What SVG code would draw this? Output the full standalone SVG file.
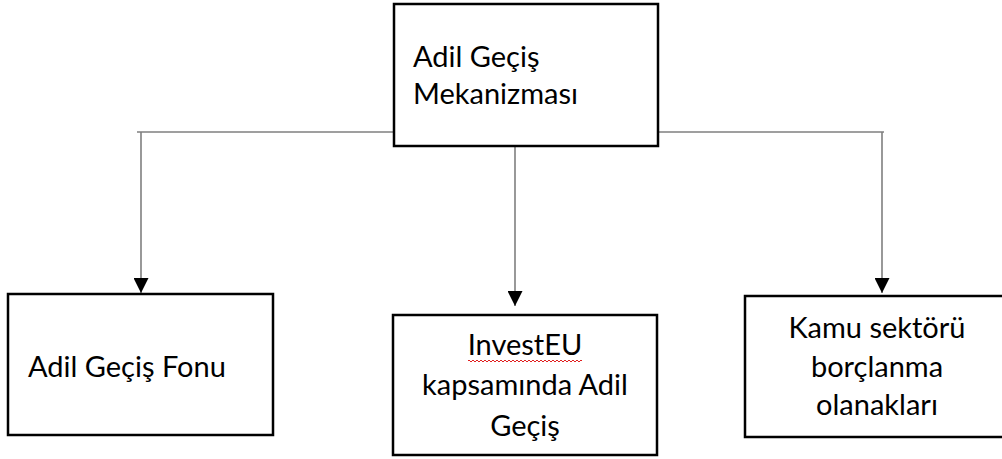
<svg xmlns="http://www.w3.org/2000/svg" width="1002" height="459" viewBox="0 0 1002 459">
<style>
.box{fill:#fff;stroke:#000;stroke-width:2.5}
.lbl{font-family:Lato,"Liberation Sans",sans-serif;font-size:29px;fill:#000}
.mid{text-anchor:middle}
.conn{stroke:#7f7f7f;stroke-width:1.6;fill:none}
</style>
<defs>
<marker id="arr" markerUnits="userSpaceOnUse" markerWidth="15" markerHeight="15" refX="15" refY="7.5" orient="auto">
<path d="M0,0 L15,7.5 L0,15 z" fill="#000"/>
</marker>
</defs>
<rect width="1002" height="459" fill="#fff"/>
<g id="connectors">
<line class="conn" x1="137" y1="132" x2="884" y2="132"/>
<line class="conn" x1="141" y1="132" x2="141" y2="293" marker-end="url(#arr)"/>
<line class="conn" x1="515" y1="146" x2="515" y2="306" marker-end="url(#arr)"/>
<line class="conn" x1="882" y1="132" x2="882" y2="293" marker-end="url(#arr)"/>
</g>
<g id="node-top">
<rect class="box" x="394" y="4" width="264" height="142"/>
<text class="lbl" x="413" y="67">Adil Geçiş</text>
<text class="lbl" x="413" y="104">Mekanizması</text>
</g>
<g id="node-left">
<rect class="box" x="8" y="294" width="265" height="141"/>
<text class="lbl" x="28" y="377">Adil Geçiş Fonu</text>
</g>
<g id="node-middle">
<rect class="box" x="393" y="315" width="264" height="140"/>
<text class="lbl mid" x="525" y="355">InvestEU</text>
<path d="M468,361 q1,-2 2,0 t2,0 t2,0 t2,0 t2,0 t2,0 t2,0 t2,0 t2,0 t2,0 t2,0 t2,0 t2,0 t2,0 t2,0 t2,0 t2,0 t2,0 t2,0 t2,0 t2,0 t2,0 t2,0 t2,0 t2,0 t2,0 t2,0 t2,0 t2,0 t2,0 t2,0 t2,0 t2,0 t2,0 t2,0 t2,0 t2,0 t2,0 t2,0 t2,0 t2,0 t2,0 t2,0 t2,0 t2,0 t2,0 t2,0 t2,0 t2,0 t2,0 t2,0 t2,0 t2,0 t2,0 t2,0 t2,0 t2,0" fill="none" stroke="#e02020" stroke-width="1"/>
<text class="lbl mid" x="525" y="395">kapsamında Adil</text>
<text class="lbl mid" x="525" y="436">Geçiş</text>
</g>
<g id="node-right">
<rect class="box" x="745" y="296" width="264" height="141"/>
<text class="lbl mid" x="877" y="338">Kamu sektörü</text>
<text class="lbl mid" x="877" y="377">borçlanma</text>
<text class="lbl mid" x="877" y="415">olanakları</text>
</g>
</svg>
